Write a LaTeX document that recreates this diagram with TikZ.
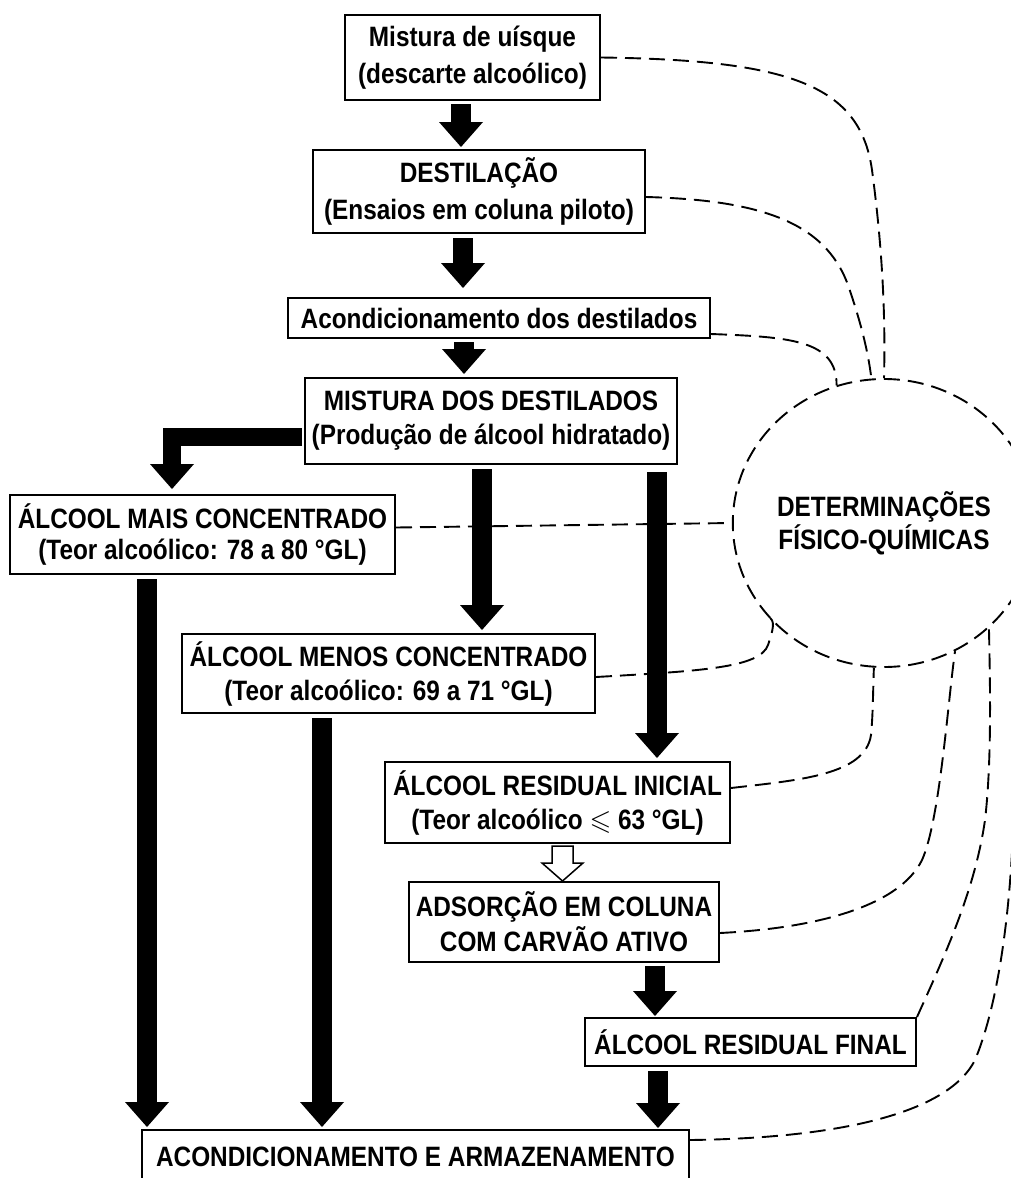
\documentclass[tikz,border=0pt]{standalone}
\usepackage{amssymb}
\usepackage{fontspec}
\setmainfont{Liberation Sans}[FakeStretch=0.87]
\usetikzlibrary{calc,shapes.geometric}
\tikzset{
  bx/.style={draw, line width=2pt, inner sep=0pt, align=center},
  lsp/.style={font=\bfseries\fontsize{28}{#1}\selectfont},
  dl/.style={line width=1.9pt, dash pattern=on 16pt off 8pt},
  openarr/.style={line width=1.5pt, fill=white, line join=miter},
}
\newcommand\blockarr[2]{%
  \path (#1) coordinate (ba-s) (#2) coordinate (ba-t0);
  \path (ba-s |- ba-t0) coordinate (ba-t);
  \fill (ba-t) -- ++(-22,-25) -- ++(44,0) -- cycle;
  \draw[line width=20pt] (ba-s) -- ([shift={(0,-24)}]ba-t);
}
\begin{document}
\begin{tikzpicture}[x=1pt,y=-1pt]
\useasboundingbox (0,0) rectangle (1011,1178);
\clip (0,0) rectangle (1011,1178);

% boxes
\node[bx,lsp=37,minimum width=255pt,minimum height=85pt] (b1) at (472.5,57.5) {Mistura de uísque\\(descarte alcoólico)};
\node[bx,lsp=37,minimum width=332pt,minimum height=83pt] (b2) at (479,191.5) {DESTILAÇÃO\\(Ensaios em coluna piloto)};
\node[bx,lsp=30,minimum width=422pt,minimum height=40pt] (b3) at (499,318) {Acondicionamento dos destilados};
\node[bx,lsp=34,minimum width=372pt,minimum height=86pt] (b4) at (491,421) {MISTURA DOS DESTILADOS\\(Produção de álcool hidratado)};
\node[bx,lsp=31,minimum width=385pt,minimum height=79pt] (mais) at (202.5,534.5) {ÁLCOOL MAIS CONCENTRADO\\(Teor alcoólico: 78 a 80 °GL)};
\node[bx,lsp=34,minimum width=413pt,minimum height=79pt] (menos) at (388.5,673.5) {ÁLCOOL MENOS CONCENTRADO\\(Teor alcoólico: 69 a 71 °GL)};
\node[bx,lsp=34,minimum width=345pt,minimum height=81pt] (ini) at (557.5,802.5) {ÁLCOOL RESIDUAL INICIAL\\(Teor alcoólico {\boldmath$\leqslant$} 63 °GL)};
\node[bx,lsp=35,minimum width=310pt,minimum height=80pt] (ads) at (564,922) {ADSORÇÃO EM COLUNA\\COM CARVÃO ATIVO};
\node[bx,lsp=30,minimum width=331pt,minimum height=48pt] (fin) at (750.5,1042) {ÁLCOOL RESIDUAL FINAL};
\node[bx,lsp=30,minimum width=547pt,minimum height=54pt] (acond) at (415.5,1157) {ACONDICIONAMENTO E ARMAZENAMENTO};
\node[draw,dl,ellipse,inner sep=0pt,minimum width=270pt,minimum height=288pt,lsp=33,align=center] (circ) at (884,523) {DETERMINAÇÕES\\FÍSICO-QUÍMICAS};

% block arrows
\blockarr{[shift={(-11.5,3)}]b1.south}{[shift={(0,-2)}]b2.north}
\blockarr{[shift={(-16,4)}]b2.south}{[shift={(0,-9)}]b3.north}
\blockarr{[shift={(-35,3)}]b3.south}{[shift={(0,-3)}]b4.north}
\blockarr{[shift={(-9,4)}]b4.south}{[shift={(0,-3)}]menos.north}
\blockarr{[shift={(166,7)}]b4.south}{[shift={(0,-3)}]ini.north}
\blockarr{[shift={(-55.5,4)}]mais.south}{[shift={(0,-2)}]acond.north}
\blockarr{[shift={(-66.5,4)}]menos.south}{[shift={(0,-2)}]acond.north}
\blockarr{[shift={(91,3)}]ads.south}{[shift={(0,-1)}]fin.north}
\blockarr{[shift={(-92.5,4)}]fin.south}{[shift={(0,-1)}]acond.north}

% L-shaped arrow
\path ([shift={(-2,16)}]b4.west) coordinate (ls) ([shift={(-30.5,-5)}]mais.north) coordinate (lt);
\fill (lt) -- ++(-22,-25) -- ++(44,0) -- cycle;
\draw[line width=18pt, line join=miter] (ls) -- (ls -| lt) -- ([shift={(0,-24)}]lt);

% open arrow
\draw[openarr] ([shift={(-5.5,2)}]ini.south) -- ++(21,0) -- ++(0,17) -- ++(10,0) -- ++(-20.5,18) -- ++(-20.5,-18) -- ++(10,0) -- cycle;

% dashed connectors
\draw[dl] (b1.east) .. controls (790,60) and (860,85) .. (872,170) .. controls (880,230) and (886,300) .. (circ.90);
\draw[dl] ([shift={(0,5.5)}]b2.east) .. controls (760,200) and (825,222) .. (848,285) .. controls (860,320) and (868,350) .. (circ.95);
\draw[dl] ([shift={(0,-5)}]b3.south east) .. controls (790,337) and (837,340) .. (circ.109);
\draw[dl] ([shift={(0,-7)}]mais.east) -- (circ.180);
\draw[dl] ([shift={(0,3.5)}]menos.east) .. controls (700,671) and (760,668) .. (768,645) .. controls (773,630) and (776,620) .. (circ.219);
\draw[dl] ([shift={(0,-14.5)}]ini.east) .. controls (800,780) and (865,775) .. (871,735) .. controls (873,715) and (873,690) .. (circ.266);
\draw[dl] ([shift={(0,11)}]ads.east) .. controls (820,928) and (900,905) .. (922,860) .. controls (940,820) and (948,700) .. (circ.299);
\draw[dl] (fin.north east) .. controls (945,955) and (975,890) .. (985,820) .. controls (992,760) and (990,680) .. (circ.315);
\draw[dl] ([shift={(0,11)}]acond.north east) .. controls (850,1138) and (950,1110) .. (975,1060) .. controls (1000,1000) and (1012,900) .. (1014,800) .. controls (1016,700) and (1013,620) .. (circ.338);
\end{tikzpicture}
\end{document}
